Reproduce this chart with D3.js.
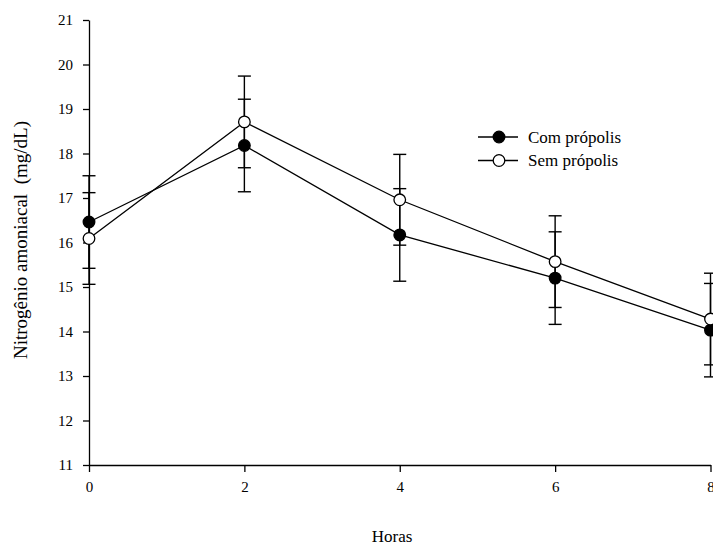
<!doctype html>
<html>
<head>
<meta charset="utf-8">
<script src="https://cdn.jsdelivr.net/npm/d3@7"></script>
<style>
  body { margin: 0; background: #fff; }
  svg text { font-family: "Liberation Serif", "Times New Roman", serif; fill: #000; }
</style>
</head>
<body>
<svg id="chart" width="713" height="545"></svg>
<script>
// chart data
const hours = [0, 2, 4, 6, 8]
const comPropolis = [16.46, 18.18, 16.17, 15.20, 14.03]
const comPropolisErr = [1.04, 1.04, 1.04, 1.04, 1.05]
const semPropolis = [16.09, 18.71, 16.96, 15.57, 14.28]
const semPropolisErr = [1.03, 1.03, 1.02, 1.03, 1.03]
const seriesNames = ['Com própolis', 'Sem própolis']
const xTicks = [0, 2, 4, 6, 8]
const yTicks = [11, 12, 13, 14, 15, 16, 17, 18, 19, 20, 21]

const svg = d3.select('#chart')

const x = d3.scaleLinear().domain([0, 8]).range([89, 710.5])
const y = d3.scaleLinear().domain([11, 21]).range([465, 20])

const series = [
  { name: seriesNames[0], values: comPropolis, err: comPropolisErr, fill: '#000' },
  { name: seriesNames[1], values: semPropolis, err: semPropolisErr, fill: '#fff' },
]

// axes
const xAxis = svg.append('g')
  .attr('transform', `translate(0,${y(11)})`)
  .call(d3.axisBottom(x).tickValues(xTicks).tickSize(7).tickPadding(9).tickSizeOuter(0))
const yAxis = svg.append('g')
  .attr('transform', `translate(${x(0)},0)`)
  .call(d3.axisLeft(y).tickValues(yTicks).tickSize(6).tickPadding(10).tickSizeOuter(0))

for (const ax of [xAxis, yAxis]) {
  ax.select('.domain').attr('stroke', '#000').attr('stroke-width', 1.3)
  ax.selectAll('.tick line').attr('stroke', '#000').attr('stroke-width', 1.3)
  ax.selectAll('.tick text')
    .style('font-family', '"Liberation Serif", serif')
    .style('font-size', '15px')
    .attr('fill', '#000')
}

// error bars
const capHalf = 6.5
for (const s of series) {
  const g = svg.append('g').attr('stroke', '#000').attr('stroke-width', 1.4)
  hours.forEach((h, i) => {
    const hi = s.values[i] + s.err[i]
    const lo = s.values[i] - s.err[i]
    g.append('line').attr('x1', x(h)).attr('x2', x(h)).attr('y1', y(hi)).attr('y2', y(lo))
    g.append('line').attr('x1', x(h) - capHalf).attr('x2', x(h) + capHalf).attr('y1', y(hi)).attr('y2', y(hi))
    g.append('line').attr('x1', x(h) - capHalf).attr('x2', x(h) + capHalf).attr('y1', y(lo)).attr('y2', y(lo))
  })
}

// lines
const line = d3.line().x((d, i) => x(hours[i])).y(d => y(d))
for (const s of series) {
  svg.append('path')
    .datum(s.values)
    .attr('fill', 'none')
    .attr('stroke', '#000')
    .attr('stroke-width', 1.3)
    .attr('d', line)
}

// markers
for (const s of series) {
  svg.append('g').selectAll('circle')
    .data(s.values)
    .join('circle')
    .attr('cx', (d, i) => x(hours[i]))
    .attr('cy', d => y(d))
    .attr('r', 5.8)
    .attr('fill', s.fill)
    .attr('stroke', '#000')
    .attr('stroke-width', 1.3)
}

// legend
const legend = svg.append('g').attr('transform', 'translate(478,137)')
series.forEach((s, i) => {
  const row = legend.append('g').attr('transform', `translate(0,${i * 23.5})`)
  row.append('line').attr('x1', 0).attr('x2', 40).attr('y1', 0).attr('y2', 0)
    .attr('stroke', '#000').attr('stroke-width', 1.3)
  row.append('circle').attr('cx', 21).attr('cy', 0).attr('r', 5.8)
    .attr('fill', s.fill).attr('stroke', '#000').attr('stroke-width', 1.3)
  row.append('text').attr('x', 50).attr('y', 5.5).style('font-size', '17px').text(s.name)
})

// axis titles
svg.append('text')
  .attr('x', 392).attr('y', 542)
  .attr('text-anchor', 'middle')
  .style('font-size', '17px')
  .text('Horas')

svg.append('text')
  .attr('transform', `translate(27,240) rotate(-90)`)
  .attr('text-anchor', 'middle')
  .style('font-size', '19px')
  .style('white-space', 'pre')
  .text('Nitrogênio amoniacal  (mg/dL)')
</script>
</body>
</html>
